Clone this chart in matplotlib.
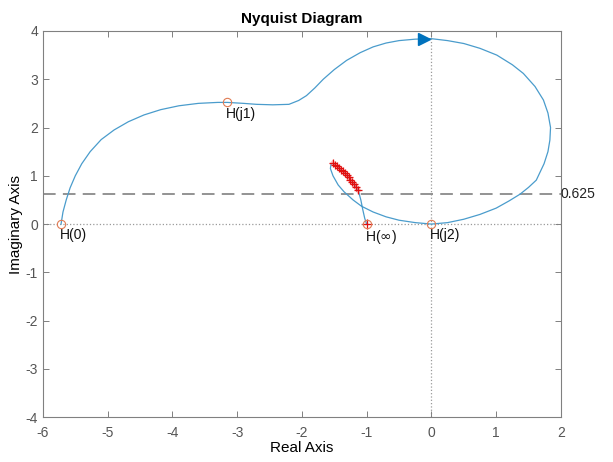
import matplotlib
matplotlib.use("Agg")
import matplotlib.pyplot as plt

plt.rcParams['font.family'] = ['Liberation Sans', 'DejaVu Sans']
plt.rcParams['axes.unicode_minus'] = False

# Nyquist curve (w: 0 -> inf)
re_pts = [-5.72, -5.69, -5.64, -5.58, -5.5, -5.4, -5.27, -5.1, -4.9, -4.68,
          -4.44, -4.18, -3.9, -3.6, -3.3, -3.15, -2.9, -2.7, -2.45, -2.2,
          -2.05, -1.93, -1.8, -1.67, -1.5, -1.31, -1.1, -0.9, -0.7, -0.5,
          -0.25, 0.0, 0.25, 0.5, 0.75, 1.01, 1.25, 1.42, 1.6, 1.73,
          1.8, 1.84, 1.83, 1.8, 1.74, 1.62, 1.5, 1.37, 1.2, 1.0,
          0.75, 0.5, 0.25, 0.0, -0.25, -0.5, -0.7, -0.9, -1.08, -1.21,
          -1.35, -1.44, -1.52, -1.56, -1.55, -1.52, -1.42, -1.32, -1.22, -1.13,
          -1.09, -1.06, -1.03, -1.0]
im_pts = [0.0, 0.25, 0.5, 0.75, 1.0, 1.25, 1.5, 1.75, 1.95, 2.12,
          2.26, 2.37, 2.45, 2.5, 2.52, 2.52, 2.5, 2.48, 2.47, 2.48,
          2.56, 2.66, 2.82, 3.0, 3.2, 3.39, 3.55, 3.67, 3.75, 3.8,
          3.83, 3.84, 3.8, 3.74, 3.64, 3.5, 3.3, 3.12, 2.85, 2.57,
          2.3, 2.0, 1.74, 1.5, 1.25, 0.91, 0.76, 0.62, 0.48, 0.33,
          0.2, 0.1, 0.03, 0.0, 0.03, 0.08, 0.15, 0.25, 0.37, 0.5,
          0.67, 0.81, 1.0, 1.15, 1.24, 1.26, 1.16, 1.03, 0.88, 0.7,
          0.5, 0.3, 0.12, 0.0]

# red "+" cluster on the small loop
red_re = [-1.52, -1.49, -1.46, -1.43, -1.40, -1.37, -1.34, -1.31, -1.28, -1.25,
          -1.22, -1.19, -1.16, -1.13]
red_im = [1.26, 1.23, 1.20, 1.17, 1.13, 1.09, 1.05, 1.01, 0.97, 0.92,
          0.87, 0.82, 0.76, 0.70]

# labelled frequency points
pt_labels = ['H(0)', 'H(j1)', 'H(j2)', r'H($\infty$)']
pt_re = [-5.72, -3.15, 0.0, -1.0]
pt_im = [0.0, 2.52, 0.0, 0.0]

arrow_re, arrow_im = -0.12, 3.84
gain_line = 0.625

fig = plt.figure(figsize=(6.13, 4.62), dpi=100)
ax = fig.add_axes([0.070, 0.097, 0.845, 0.836])

ax.axhline(0, color='#9a9a9a', ls=':', lw=0.9, zorder=1)
ax.axvline(0, color='#9a9a9a', ls=':', lw=0.9, zorder=1)
ax.axhline(gain_line, color='#8a8a8a', ls=(0, (7, 4)), lw=1.3, zorder=1)

ax.plot(re_pts, im_pts, color='#4a9ccc', lw=0.9, zorder=2)
ax.plot(red_re, red_im, color='#ff8080', lw=3.5, alpha=0.5, zorder=3)
ax.plot(red_re, red_im, ls='none', marker='+', ms=6, mew=0.9,
        color='#e01010', zorder=4)
ax.plot([pt_re[3]], [pt_im[3]], ls='none', marker='+', ms=7, mew=0.9,
        color='#e01010', zorder=4)
ax.plot([arrow_re], [arrow_im], ls='none', marker='>', ms=8,
        color='#0072bd', zorder=5)

ax.plot(pt_re, pt_im, ls='none', marker='o', ms=6, mfc='none', mew=0.8,
        color='#e07b54', zorder=5)
for lab, x, y in zip(pt_labels, pt_re, pt_im):
    ax.annotate(lab, (x, y), xytext=(-1, -3), textcoords='offset points',
                ha='left', va='top', fontsize=10, color='#111111')

ax.text(1.0, gain_line, '0.625', transform=ax.get_yaxis_transform(),
        ha='left', va='center', fontsize=10, color='#222222')

ax.set_xlim(-6, 2)
ax.set_ylim(-4, 4)
ax.set_xticks(range(-6, 3))
ax.set_yticks(range(-4, 5))
ax.tick_params(direction='in', top=True, right=True, colors='#808080',
               labelcolor='#555555', labelsize=10, length=4, width=0.7)
ax.tick_params(axis='x', pad=6)
for s in ax.spines.values():
    s.set_color('#808080')
    s.set_linewidth(0.8)

ax.set_title('Nyquist Diagram', fontsize=11, fontweight='bold', pad=6)
ax.set_xlabel('Real Axis', fontsize=11, labelpad=1)
ax.set_ylabel('Imaginary Axis', fontsize=11, labelpad=2)

fig.savefig('out.png', dpi=100)
